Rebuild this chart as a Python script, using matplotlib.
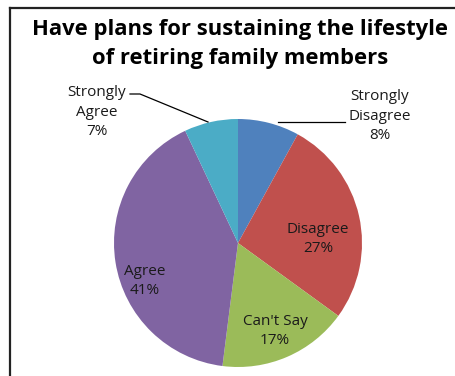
import matplotlib
matplotlib.use("Agg")
import matplotlib.pyplot as plt
from matplotlib.lines import Line2D

# slices, clockwise from 12 o'clock
labels = ["Strongly\nDisagree", "Disagree", "Can't Say", "Agree", "Strongly\nAgree"]
values = [8, 27, 17, 41, 7]
colors = ["#4F81BD", "#C0504D", "#9BBB59", "#8064A2", "#4BACC6"]
title = "Have plans for sustaining the lifestyle\nof retiring family members"

W, H = 456, 376
fig = plt.figure(figsize=(W / 100, H / 100), dpi=100)
ax = fig.add_axes([0, 0, 1, 1])

# pie placed in pixel units (y measured from the bottom)
cx, cy, r = 238, H - 243, 124
ax.pie(values, colors=colors, startangle=90, counterclock=False,
       center=(cx, cy), radius=r, frame=True,
       wedgeprops=dict(linewidth=0))
ax.set_xlim(0, W)
ax.set_ylim(0, H)
ax.set_aspect("equal")
ax.axis("off")

# label anchors in pixel coords (x, y from top)
label_pos = [(380, 116), (318, 239), (275, 331), (145, 281), (97, 112)]
for lab, v, (x, y) in zip(labels, values, label_pos):
    ax.text(x, H - y, f"{lab}\n{v}%", ha="center", va="center",
            fontsize=11, family="Open Sans", color="#1a1a1a",
            linespacing=1.45)

# leader lines for the two outside labels
ax.add_line(Line2D([278, 345], [H - 122, H - 122], color="black", lw=0.9))
ax.add_line(Line2D([130, 140, 208], [H - 94, H - 94, H - 122], color="black", lw=0.9))

fig.text(0.527, 1 - 44 / H, title, ha="center", va="center",
         fontsize=15.8, fontweight="bold", family="Open Sans",
         linespacing=1.55, color="black")

# chart border (left and top edges visible)
fig.add_artist(Line2D([10 / W, 10 / W], [0, 1 - 8 / H], transform=fig.transFigure,
                      color="#222222", lw=1.6))
fig.add_artist(Line2D([10 / W, 1], [1 - 8 / H, 1 - 8 / H], transform=fig.transFigure,
                      color="#222222", lw=1.6))

fig.savefig("out.png", dpi=100)
